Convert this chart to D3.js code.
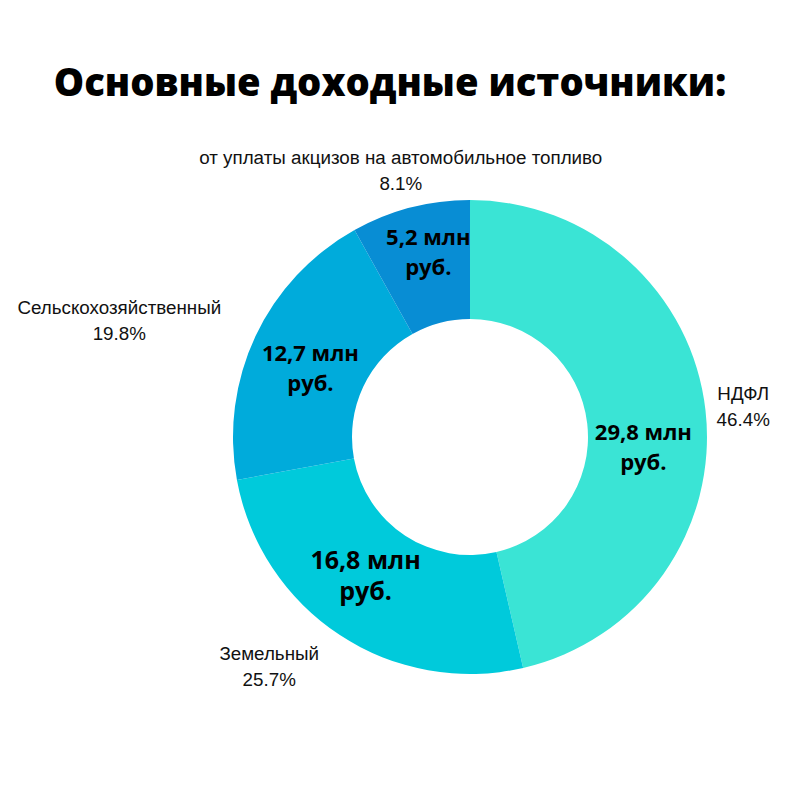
<!DOCTYPE html>
<html>
<head>
<meta charset="utf-8">
<script src="https://cdn.jsdelivr.net/npm/d3@7"></script>
<style>
  html, body { margin: 0; padding: 0; background: #fff; }
  svg { display: block; }
</style>
</head>
<body>
<svg id="chart" width="800" height="800"></svg>
<script>
// ---- data ----
const categories = ["НДФЛ", "Земельный", "Сельскохозяйственный", "от уплаты акцизов на автомобильное топливо"];
const shares = [46.4, 25.7, 19.8, 8.1];
const amounts = ["29,8 млн", "16,8 млн", "12,7 млн", "5,2 млн"];
const unitText = "руб.";
const titleText = "Основные доходные источники:";

// ---- styles / layout ----
const colors = ["#3ae4d5", "#00cadb", "#00abdb", "#088dd4"];
const valueFontSizes = [22, 25, 22, 22];
const valueNudge = [[-3, 30], [-7, -10], [1, 7], [3, -13]];

const W = 800, H = 800;
const cx = 470, cy = 437;
const outerR = 237, innerR = 118, labelR = 275;

const svg = d3.select("#chart");

svg.append("text")
  .attr("x", 390).attr("y", 96)
  .attr("text-anchor", "middle")
  .attr("font-family", "'Open Sans', sans-serif")
  .attr("font-weight", 800)
  .attr("font-size", 38.2)
  .attr("fill", "#000")
  .text(titleText);

const data = categories.map((c, i) => ({ name: c, share: shares[i], amount: amounts[i], i }));

const pie = d3.pie().value(d => d.share).sort(null);
const arcs = pie(data);
const arc = d3.arc().innerRadius(innerR).outerRadius(outerR);

const g = svg.append("g").attr("transform", `translate(${cx},${cy})`);

g.selectAll("path.slice")
  .data(arcs)
  .join("path")
  .attr("class", "slice")
  .attr("d", arc)
  .attr("fill", d => colors[d.data.i]);

// value labels inside slices
arcs.forEach(d => {
  const c = arc.centroid(d);
  const nx = valueNudge[d.data.i][0], ny = valueNudge[d.data.i][1];
  const fs = valueFontSizes[d.data.i];
  const lh = Math.max(30, fs * 1.26);
  const t = g.append("text")
    .attr("text-anchor", "middle")
    .attr("font-family", "'Open Sans', sans-serif")
    .attr("font-weight", 700)
    .attr("font-size", fs)
    .attr("fill", "#000");
  t.append("tspan").attr("x", c[0] + nx).attr("y", c[1] + ny - lh / 2 + fs * 0.36).text(d.data.amount);
  t.append("tspan").attr("x", c[0] + nx).attr("y", c[1] + ny + lh / 2 + fs * 0.36).text(unitText);
});

// outside labels
const fmt = v => v.toFixed(1) + "%";
arcs.forEach(d => {
  const a = (d.startAngle + d.endAngle) / 2;
  const px = labelR * Math.sin(a), py = -labelR * Math.cos(a);
  const fs = 18.8, lh = 26;
  const t = g.append("text")
    .attr("font-family", "'Liberation Sans', Arial, sans-serif")
    .attr("font-size", fs)
    .attr("fill", "#111")
    .attr("text-anchor", "middle");
  const l1 = t.append("tspan").attr("y", py - lh / 2 + fs * 0.35).text(d.data.name);
  const l2 = t.append("tspan").attr("y", py + lh / 2 + fs * 0.35).text(fmt(d.data.share));
  const w = Math.max(l1.node().getComputedTextLength(), l2.node().getComputedTextLength());
  let center = px;
  if (Math.sin(a) < -0.5) center = px - w / 2;
  l1.attr("x", center);
  l2.attr("x", center);
});
</script>
</body>
</html>
